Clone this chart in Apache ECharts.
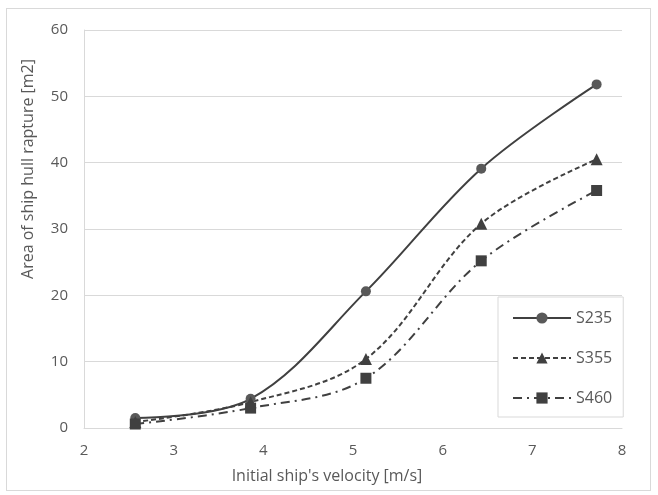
<!DOCTYPE html>
<html><head><meta charset="utf-8">
<script src="https://cdn.jsdelivr.net/npm/echarts@6/dist/echarts.min.js"></script>
<style>html,body{margin:0;padding:0;background:#fff}#c{width:658px;height:495px}
#frame{position:absolute;left:6px;top:8px;width:643px;height:481px;border:1px solid #d9d9d9;pointer-events:none}</style>
</head><body><div id="c"></div><div id="frame"></div>
<script>
const velocity = [2.572, 3.858, 5.144, 6.430, 7.717];
const s235 = [1.5, 4.4, 20.6, 39.1, 51.8];
const s355 = [0.9, 3.9, 10.4, 30.8, 40.5];
const s460 = [0.6, 3.0, 7.5, 25.2, 35.8];
const seriesNames = ['S235', 'S355', 'S460'];

const pair = arr => velocity.map((v, i) => [v, arr[i]]);
const font = 'Open Sans';
const chart = echarts.init(document.getElementById('c'));
chart.setOption({
  animation: false,
  grid: {left: 84, right: 36, top: 30, bottom: 67},
  xAxis: {
    type: 'value', min: 2, max: 8, interval: 1,
    name: "Initial ship's velocity [m/s]", nameLocation: 'middle', nameGap: 40,
    nameTextStyle: {fontFamily: font, fontSize: 16, color: '#595959', padding: [0, 52, 0, 0]},
    axisLine: {show: true, lineStyle: {color: '#d9d9d9', width: 1}},
    axisTick: {show: false},
    splitLine: {show: false},
    axisLabel: {fontFamily: font, fontSize: 15, color: '#595959', margin: 15}
  },
  yAxis: {
    type: 'value', min: 0, max: 60, interval: 10,
    name: 'Area of ship hull rapture [m2]', nameLocation: 'middle', nameGap: 48,
    nameTextStyle: {fontFamily: font, fontSize: 16, color: '#595959', padding: [0, 0, 0, 120]},
    axisLine: {show: true, lineStyle: {color: '#d9d9d9', width: 1}},
    axisTick: {show: false},
    splitLine: {show: true, lineStyle: {color: '#d9d9d9', width: 1}},
    axisLabel: {fontFamily: font, fontSize: 15, color: '#595959', margin: 16}
  },
  legend: {
    orient: 'vertical', left: 498, top: 297,
    padding: [13, 11, 11, 14], itemGap: 24, itemWidth: 58, itemHeight: 14,
    backgroundColor: '#fff', borderColor: '#d9d9d9', borderWidth: 1,
    textStyle: {fontFamily: font, fontSize: 16, color: '#595959'},
    data: seriesNames
  },
  series: [
    {name: seriesNames[0], type: 'line', smooth: 0.35, data: pair(s235),
     symbol: 'circle', symbolSize: 10,
     itemStyle: {color: '#595959'}, lineStyle: {color: '#404040', width: 2, type: 'solid'}},
    {name: seriesNames[1], type: 'line', smooth: 0.35, data: pair(s355),
     symbol: 'triangle', symbolSize: 12,
     itemStyle: {color: '#404040'}, lineStyle: {color: '#404040', width: 2, type: [5, 3]}},
    {name: seriesNames[2], type: 'line', smooth: 0.35, data: pair(s460),
     symbol: 'rect', symbolSize: 11,
     itemStyle: {color: '#404040'}, lineStyle: {color: '#404040', width: 2, type: [9, 5, 2, 5]}}
  ]
});
</script></body></html>
